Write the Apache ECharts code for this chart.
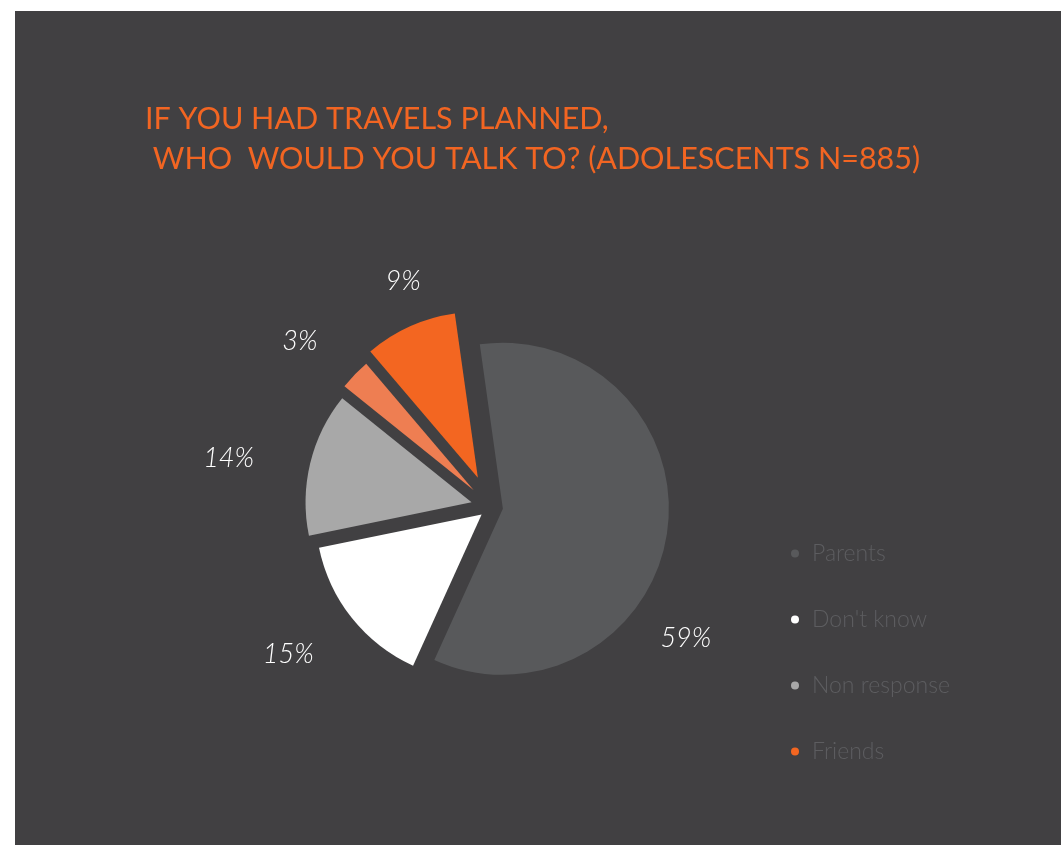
<!DOCTYPE html>
<html>
<head>
<meta charset="utf-8">
<script src="https://cdn.jsdelivr.net/npm/echarts@6/dist/echarts.min.js"></script>
<style>
  html, body { margin: 0; padding: 0; background: #ffffff; }
  #chart { position: absolute; left: 15px; top: 11px; width: 1046px; height: 834px; }
</style>
</head>
<body>
<div id="chart"></div>
<script>
// Survey answers, drawn clockwise from the top
const categories = ['Parents', "Don't know", 'Non response', 'Other', 'Friends'];
const values = [59, 15, 14, 3, 9];
const legendNames = ['Parents', "Don't know", 'Non response', 'Friends'];

// Styling
const sliceColors = ['#58595b', '#ffffff', '#a8a8a8', '#ee7e52', '#f36621'];
const explodeBy = [12, 12, 20, 24, 32];
const labelReach = [30, 75, 83, 64, 43];
const labelShift = [[-11, 102], [-5, -11], [-1, 15], [-9, 11], [11, -6]];

const chart = echarts.init(document.getElementById('chart'), null, { renderer: 'canvas' });

// One pie per exploded slice so each slice can sit at its own distance
const pies = categories.map((_, i) => ({
  type: 'pie',
  center: [476, 496],
  radius: 166,
  startAngle: 98,
  clockwise: true,
  silent: true,
  animation: false,
  avoidLabelOverlap: false,
  selectedMode: 'single',
  selectedOffset: explodeBy[i],
  label: {
    show: true,
    position: 'outside',
    formatter: '{c}%',
    color: '#ffffff',
    fontFamily: 'Lato',
    fontStyle: 'italic',
    fontWeight: 300,
    fontSize: 27,
    distanceToLabelLine: 0
  },
  labelLine: { show: false, length: labelReach[i], length2: 0 },
  labelLayout: { align: 'center', verticalAlign: 'middle', dx: labelShift[i][0], dy: labelShift[i][1] },
  emphasis: { disabled: true },
  data: categories.map((name, j) => ({
    name: name,
    value: values[j],
    selected: j === i,
    itemStyle: { color: j === i ? sliceColors[j] : 'rgba(0,0,0,0)', borderWidth: 0 },
    label: { show: j === i }
  }))
}));

chart.setOption({
  backgroundColor: '#414042',
  title: {
    text: 'IF YOU HAD TRAVELS PLANNED,\n WHO  WOULD YOU TALK TO? (ADOLESCENTS N=885)',
    left: 125,
    top: 83,
    textStyle: {
      color: '#f26522',
      fontFamily: 'Lato',
      fontWeight: 'normal',
      fontSize: 30.5,
      lineHeight: 40
    }
  },
  legend: {
    orient: 'vertical',
    left: 771,
    top: 526,
    itemWidth: 8,
    itemHeight: 8,
    itemGap: 43,
    icon: 'circle',
    selectedMode: false,
    textStyle: {
      color: '#5d5d60',
      fontFamily: 'Lato',
      fontWeight: 300,
      fontSize: 23,
      lineHeight: 22,
      padding: [0, 0, 0, 8]
    },
    data: legendNames.map(n => ({
      name: n,
      itemStyle: { color: sliceColors[categories.indexOf(n)] }
    }))
  },
  series: pies
});
</script>
</body>
</html>
